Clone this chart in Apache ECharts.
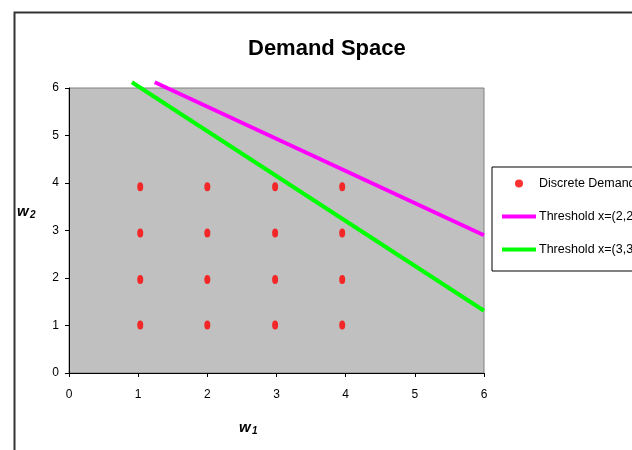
<!DOCTYPE html>
<html>
<head>
<meta charset="utf-8">
<script src="https://cdn.jsdelivr.net/npm/echarts@6/dist/echarts.min.js"></script>
<style>
html,body{margin:0;padding:0;background:#fff;}
#chart{width:632px;height:450px;}
</style>
</head>
<body>
<div id="chart"></div>
<script>
// Data
const titleText = 'Demand Space';
const xTicks = [0, 1, 2, 3, 4, 5, 6];
const yTicks = [0, 1, 2, 3, 4, 5, 6];
const demandX = [1.03, 2.0, 2.98, 3.95];
const demandY = [1.01, 1.97, 2.95, 3.92];
const threshold22 = [[1.24, 6.12], [6, 2.90]];
const threshold33 = [[0.91, 6.12], [6, 1.31]];
const seriesNames = ['Discrete Demand Points', 'Threshold x=(2,2)', 'Threshold x=(3,3)'];

const demandPoints = [];
demandX.forEach(function (x) {
  demandY.forEach(function (y) { demandPoints.push([x, y]); });
});

const chart = echarts.init(document.getElementById('chart'), null, {renderer: 'canvas'});
const font = 'Liberation Sans, Arial, sans-serif';

chart.setOption({
  animation: false,
  backgroundColor: '#ffffff',
  title: {
    text: titleText,
    left: 248,
    top: 38,
    padding: 0,
    textStyle: {fontFamily: font, fontSize: 22, fontWeight: 'bold', color: '#000'}
  },
  grid: {
    left: 69, top: 88, right: 148, bottom: 77,
    show: true, backgroundColor: '#C0C0C0', borderColor: '#808080', borderWidth: 1
  },
  xAxis: {
    type: 'value', min: xTicks[0], max: xTicks[xTicks.length - 1], interval: 1,
    axisLine: {show: true, onZero: false, lineStyle: {color: '#000', width: 1}},
    axisTick: {show: true, inside: false, length: 4, lineStyle: {color: '#000'}},
    axisLabel: {margin: 16, color: '#000', fontFamily: font, fontSize: 12},
    splitLine: {show: false}
  },
  yAxis: {
    type: 'value', min: yTicks[0], max: yTicks[yTicks.length - 1], interval: 1,
    axisLine: {show: true, onZero: false, lineStyle: {color: '#000', width: 1}},
    axisTick: {show: true, inside: false, length: 4, lineStyle: {color: '#000'}},
    axisLabel: {margin: 10, color: '#000', fontFamily: font, fontSize: 12},
    splitLine: {show: false}
  },
  legend: {
    orient: 'vertical',
    left: 492, top: 167,
    padding: [10, 200, 15, 8],
    itemWidth: 34, itemHeight: 8, itemGap: 20,
    backgroundColor: '#fff', borderColor: '#000', borderWidth: 1, borderRadius: 0,
    textStyle: {fontFamily: font, fontSize: 12.5, color: '#000', padding: [0, 0, 0, -2]},
    data: [
      {name: seriesNames[0], icon: 'circle'},
      {name: seriesNames[1], itemStyle: {opacity: 0}, lineStyle: {width: 4}},
      {name: seriesNames[2], itemStyle: {opacity: 0}, lineStyle: {width: 4}}
    ]
  },
  graphic: [
    {type: 'rect', left: 12, top: 10, shape: {x: 0, y: 0, width: 700, height: 500},
     style: {fill: 'none', stroke: '#333', lineWidth: 2}, silent: true},
    {type: 'text', left: 17, top: 204,
     style: {text: 'w', font: 'italic bold 15px ' + font, fill: '#000'}},
    {type: 'text', left: 30, top: 210,
     style: {text: '2', font: 'italic bold 10px ' + font, fill: '#000'}},
    {type: 'text', left: 239, top: 420,
     style: {text: 'w', font: 'italic bold 15px ' + font, fill: '#000'}},
    {type: 'text', left: 252, top: 426,
     style: {text: '1', font: 'italic bold 10px ' + font, fill: '#000'}}
  ],
  series: [
    {
      name: seriesNames[0], type: 'scatter', data: demandPoints,
      symbol: 'circle', symbolSize: [6, 9],
      itemStyle: {color: '#FF0000'}
    },
    {
      name: seriesNames[1], type: 'line', data: threshold22, symbol: 'none', clip: false,
      lineStyle: {color: '#FF00FF', width: 4}, itemStyle: {color: '#FF00FF'}
    },
    {
      name: seriesNames[2], type: 'line', data: threshold33, symbol: 'none', clip: false,
      lineStyle: {color: '#00FF00', width: 4}, itemStyle: {color: '#00FF00'}
    }
  ]
});
</script>
</body>
</html>
